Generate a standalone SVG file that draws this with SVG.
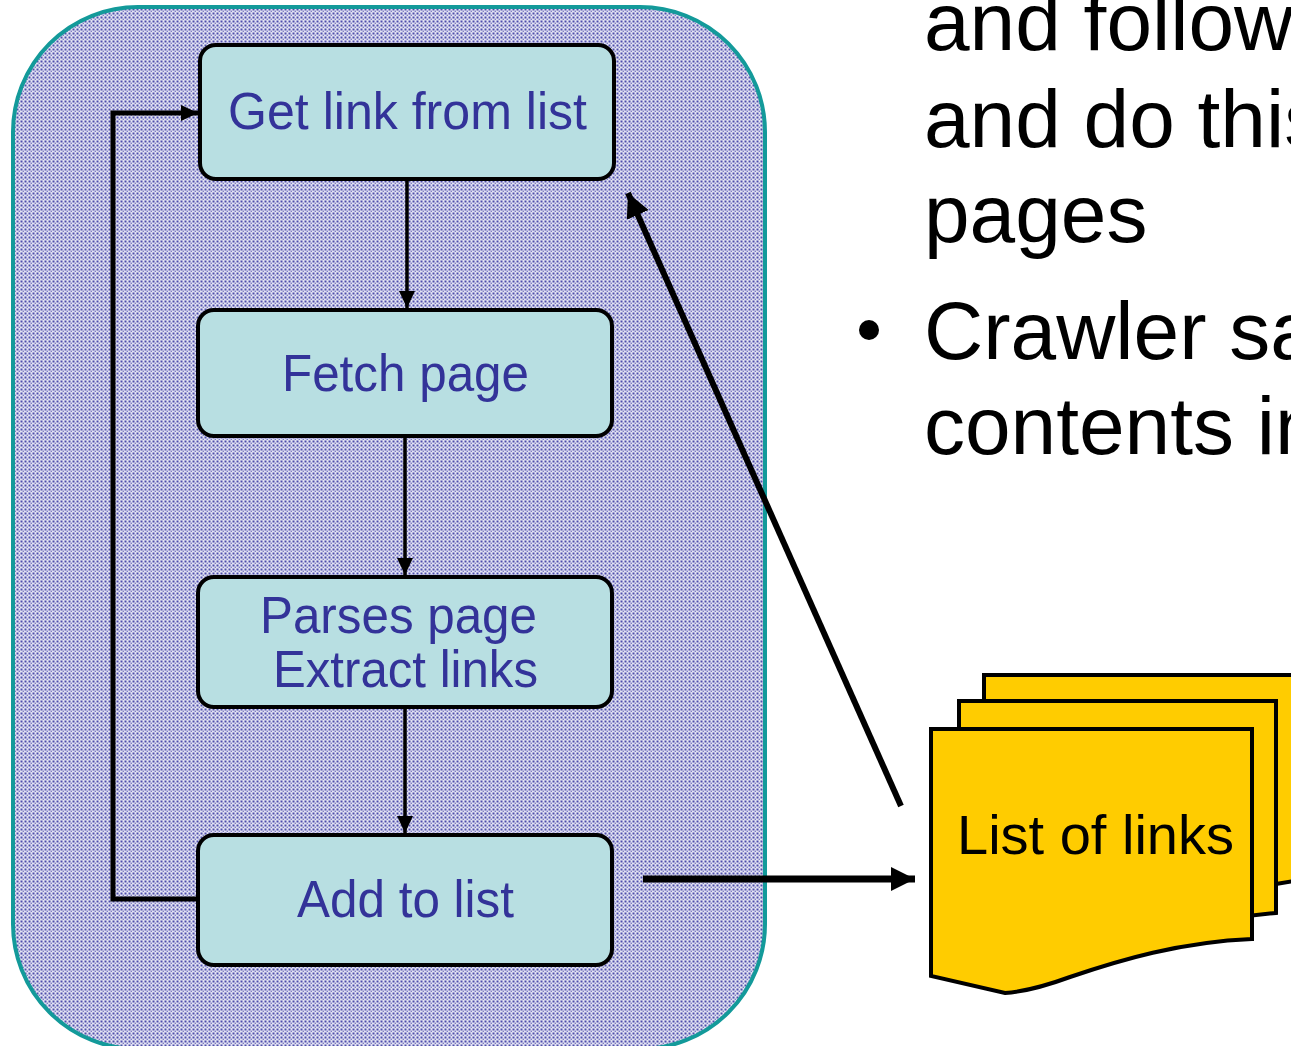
<svg xmlns="http://www.w3.org/2000/svg" width="1291" height="1046" viewBox="0 0 1291 1046">
  <defs>
    <!-- dotted halftone fill of the crawler panel -->
    <pattern id="dots" width="4" height="4" patternUnits="userSpaceOnUse">
      <rect width="4" height="4" fill="#e2e2f2"/>
      <rect x="0.5" y="0.5" width="2" height="2" fill="#4e4eac"/>
      <rect x="2.6" y="2.6" width="1.4" height="1.4" fill="#7c7cc4"/>
    </pattern>
    <marker id="head-s" markerUnits="userSpaceOnUse" markerWidth="17" markerHeight="16" refX="17" refY="8" orient="auto">
      <path d="M0,0 L17,8 L0,16 Z" fill="#000"/>
    </marker>
    <marker id="head-l" markerUnits="userSpaceOnUse" markerWidth="24" markerHeight="24" refX="24" refY="12" orient="auto">
      <path d="M0,0 L24,12 L0,24 Z" fill="#000"/>
    </marker>
    <style>
      .step { fill: #b8dfe2; stroke: #000; stroke-width: 4; }
      .label { font-family: "Liberation Sans", Arial, sans-serif; font-size: 52px; fill: #333399; }
      .body { font-family: "Liberation Sans", Arial, sans-serif; font-size: 82px; fill: #000; }
      .page { fill: #ffcc00; stroke: #000; stroke-width: 4; stroke-linejoin: miter; }
      .flow { fill: none; stroke: #000; stroke-width: 3.5; }
    </style>
  </defs>

  <rect width="1291" height="1046" fill="#fff"/>

  <!-- crawler panel -->
  <g id="panel">
    <rect x="13" y="7" width="752" height="1042" rx="125" ry="125" fill="url(#dots)" stroke="#139a9a" stroke-width="4"/>
  </g>

  <!-- bullet text on the right -->
  <g id="bullets">
    <text class="body" x="924" y="50">and follow</text>
    <text class="body" x="924" y="147">and do this</text>
    <text class="body" x="924" y="242">pages</text>
    <circle cx="869" cy="330" r="10" fill="#000"/>
    <text class="body" x="924" y="359">Crawler sa</text>
    <text class="body" x="924" y="454">contents in</text>
  </g>

  <!-- connectors -->
  <g id="connectors">
    <line class="flow" x1="407" y1="180" x2="407" y2="308" marker-end="url(#head-s)"/>
    <line class="flow" x1="405" y1="437" x2="405" y2="575" marker-end="url(#head-s)"/>
    <line class="flow" x1="405" y1="708" x2="405" y2="833" marker-end="url(#head-s)"/>
    <polyline fill="none" stroke="#000" stroke-width="5" points="198,899 113,899 113,113 198,113" marker-end="url(#head-s)"/>
    <line stroke="#000" stroke-width="7" x1="643" y1="879" x2="915" y2="879" marker-end="url(#head-l)"/>
    <line stroke="#000" stroke-width="6" x1="901" y1="806" x2="628" y2="193" marker-end="url(#head-l)"/>
  </g>

  <!-- process steps -->
  <g id="get-link">
    <rect class="step" x="200" y="45" width="414" height="134" rx="16"/>
    <text class="label" x="228" y="129" textLength="359" lengthAdjust="spacingAndGlyphs">Get link from list</text>
  </g>
  <g id="fetch-page">
    <rect class="step" x="198" y="310" width="414" height="126" rx="16"/>
    <text class="label" x="282" y="391" textLength="247" lengthAdjust="spacingAndGlyphs">Fetch page</text>
  </g>
  <g id="parse-page">
    <rect class="step" x="198" y="577" width="414" height="130" rx="16"/>
    <text class="label" x="260" y="633" textLength="277" lengthAdjust="spacingAndGlyphs">Parses page</text>
    <text class="label" x="273" y="687" textLength="265" lengthAdjust="spacingAndGlyphs">Extract links</text>
  </g>
  <g id="add-to-list">
    <rect class="step" x="198" y="835" width="414" height="130" rx="16"/>
    <text class="label" x="297" y="917" textLength="217" lengthAdjust="spacingAndGlyphs">Add to list</text>
  </g>

  <!-- stacked pages holding the link list -->
  <g id="link-list">
    <path class="page" d="M984,675 H1300 V880 L1276,884 L984,900 Z"/>
    <path class="page" d="M959,701 H1276 V913 C1240,916 1200,922 1150,935 L959,960 Z"/>
    <path class="page" d="M931,729 H1252 V939 C1180,942 1120,960 1070,977 C1040,988 1020,992 1005,993 L931,976 Z"/>
    <text x="957" y="854" font-family="Liberation Sans, Arial, sans-serif" font-size="56" fill="#000">List of links</text>
  </g>
</svg>
